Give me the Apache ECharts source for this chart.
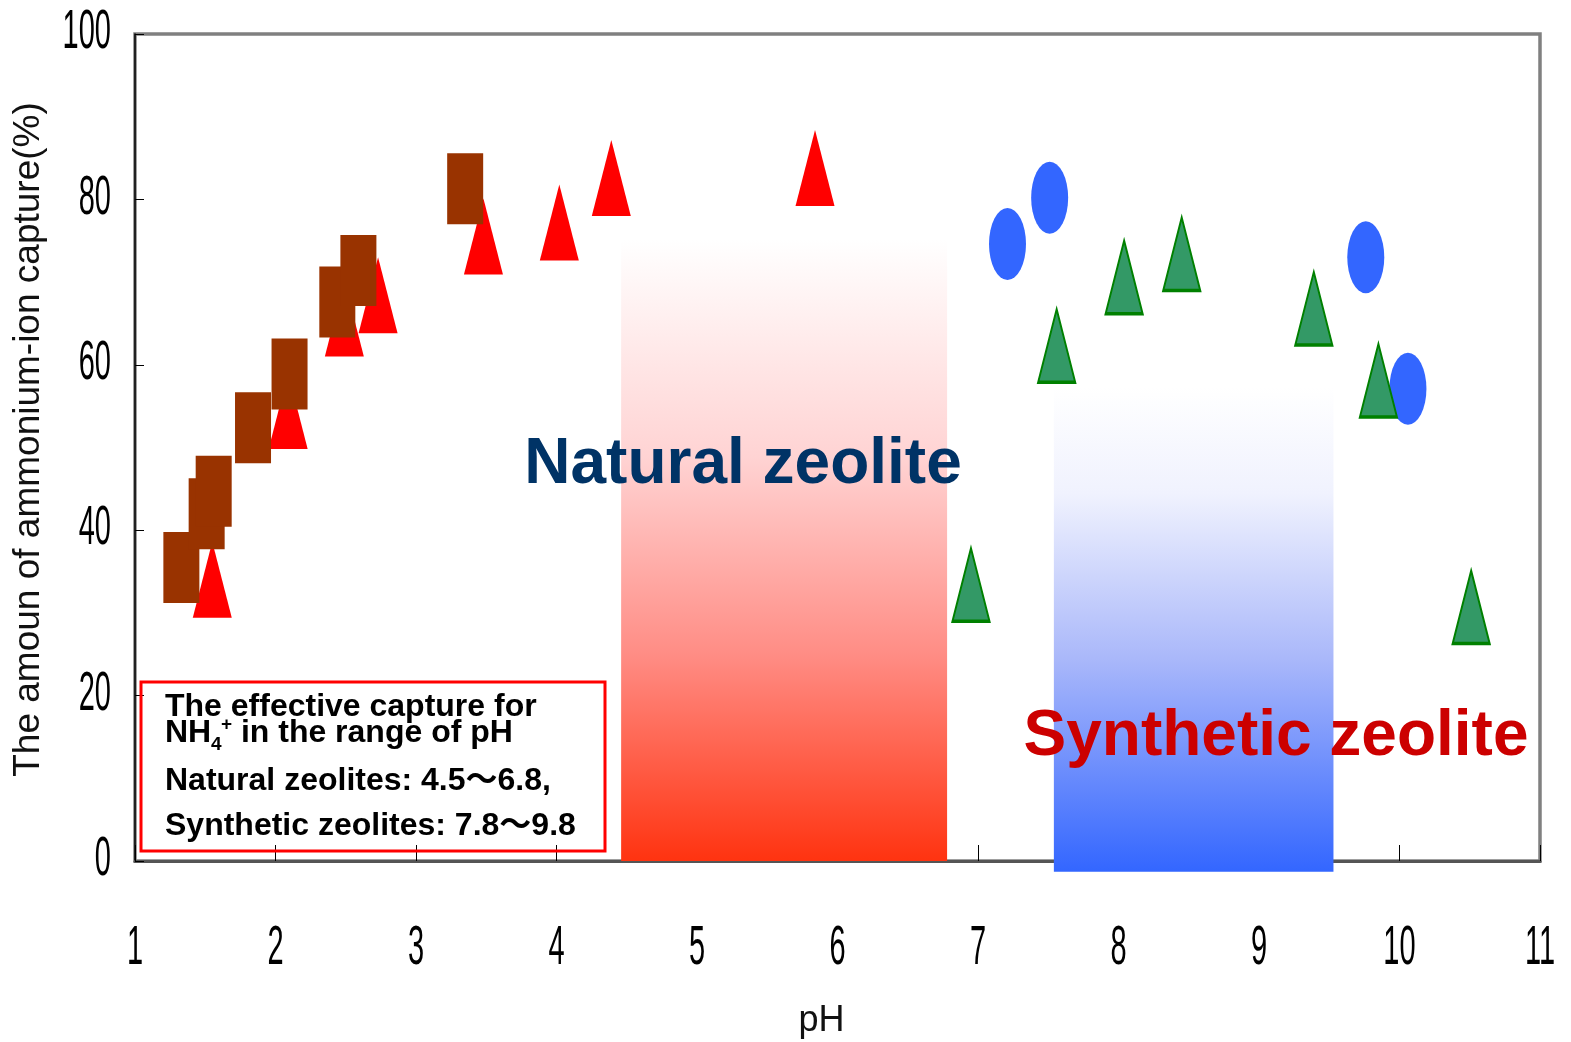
<!DOCTYPE html>
<html>
<head>
<meta charset="utf-8">
<script src="https://cdn.jsdelivr.net/npm/echarts@6/dist/echarts.min.js"></script>
<style>
  html, body { margin: 0; padding: 0; background: #fff; }
  #main { width: 1571px; height: 1042px; }
</style>
</head>
<body>
<div id="main"></div>
<script>
// [pH, ammonium-ion capture %]
var redTriangles = [[1.55, 34.0], [2.09, 54.4], [2.49, 65.6], [2.73, 68.4], [3.48, 75.5], [4.02, 77.2], [4.39, 82.6], [5.84, 83.8]];
var brownSquares = [[1.33, 35.5], [1.51, 42.0], [1.56, 44.7], [1.84, 52.4], [2.10, 58.9], [2.44, 67.6], [2.59, 71.4], [3.35, 81.3]];
var blueOvals = [[7.21, 74.6], [7.51, 80.2], [9.76, 73.0], [10.06, 57.1]];
var greenTriangles = [[6.95, 33.4], [7.56, 62.3], [8.04, 70.6], [8.45, 73.4], [9.39, 66.8], [9.85, 58.1], [10.51, 30.7]];

// shaded pH ranges: [pH from, pH to, capture from, capture to]
var naturalBand = [[4.46, 6.78, 0, 75.1]];
var syntheticBand = [[7.54, 9.53, -1.3, 57.3]];

var xTicks = [1, 2, 3, 4, 5, 6, 7, 8, 9, 10, 11];
var yTicks = [0, 20, 40, 60, 80, 100];

var mainFont = "'Liberation Sans', Arial, 'Noto Sans CJK JP', sans-serif";

function band(stops) {
    return function (params, api) {
        var p0 = api.coord([api.value(0), api.value(3)]);
        var p1 = api.coord([api.value(1), api.value(2)]);
        return {
            type: 'rect',
            shape: { x: p0[0], y: p0[1], width: p1[0] - p0[0], height: p1[1] - p0[1] },
            style: { fill: new echarts.graphic.LinearGradient(0, 0, 0, 1, stops) }
        };
    };
}

// tick labels in the tall, narrow look of the original
function tickLabel(axis) {
    return function (params, api) {
        var v = axis === 'x' ? api.value(0) : api.value(1);
        var p = api.coord([api.value(0), api.value(1)]);
        return {
            type: 'text',
            x: axis === 'x' ? p[0] : p[0] - 24,
            y: axis === 'x' ? p[1] + 88 : p[1] - 1,
            scaleY: 1.9,
            style: {
                text: String(v), font: "29px 'Liberation Sans', Arial, sans-serif", fill: '#000',
                align: axis === 'x' ? 'center' : 'right', verticalAlign: 'middle'
            }
        };
    };
}

var chart = echarts.init(document.getElementById('main'));
chart.setOption({
    animation: false,
    backgroundColor: '#fff',
    grid: {
        left: 135, right: 31, top: 34, bottom: 181,
        outerBoundsMode: 'none', containLabel: false,
        show: true, borderColor: '#808080', borderWidth: 3.5
    },
    xAxis: {
        type: 'value',
        min: xTicks[0], max: xTicks[xTicks.length - 1], interval: 1,
        name: 'pH', nameLocation: 'middle', nameGap: 142,
        nameTextStyle: { fontFamily: mainFont, fontSize: 36, color: '#111', padding: [0, 32, 0, 0] },
        axisLine: { lineStyle: { color: '#555', width: 3 } },
        axisTick: { inside: true, length: 16, lineStyle: { color: '#000', width: 1 } },
        axisLabel: { show: false },
        splitLine: { show: false }
    },
    yAxis: {
        type: 'value',
        min: yTicks[0], max: yTicks[yTicks.length - 1], interval: 20,
        name: 'The amoun of ammonium-ion capture(%)', nameLocation: 'middle', nameGap: 88, nameRotate: 90,
        nameTextStyle: { fontFamily: mainFont, fontSize: 37, color: '#111', padding: [0, 0, 0, 16] },
        axisLine: { lineStyle: { color: '#000', width: 1.5 } },
        axisTick: { inside: true, length: 9, lineStyle: { color: '#000', width: 1 } },
        axisLabel: { show: false },
        splitLine: { show: false }
    },
    series: [
        {
            type: 'scatter', data: redTriangles, symbol: 'triangle', symbolSize: [39, 76],
            itemStyle: { color: '#ff0000', opacity: 1 }
        },
        {
            type: 'scatter', data: brownSquares, symbol: 'rect', symbolSize: [36, 71],
            itemStyle: { color: '#993300', opacity: 1 }
        },
        {
            type: 'scatter', data: blueOvals, symbol: 'circle', symbolSize: [37, 72],
            itemStyle: { color: '#3366ff', opacity: 1 }
        },
        {
            type: 'scatter', data: greenTriangles, symbol: 'triangle', symbolSize: [37, 73],
            itemStyle: { color: '#339966', borderColor: '#008000', borderWidth: 2.5, opacity: 1 }
        },
        {
            type: 'custom', data: naturalBand, z: 3, clip: false, silent: true,
            encode: { x: [0, 1], y: [2, 3] },
            renderItem: band([
                { offset: 0, color: '#ffffff' },
                { offset: 0.35, color: '#ffd3d3' },
                { offset: 0.67, color: '#ff8c84' },
                { offset: 1, color: '#ff3310' }
            ])
        },
        {
            type: 'custom', data: syntheticBand, z: 3, clip: false, silent: true,
            encode: { x: [0, 1], y: [2, 3] },
            renderItem: band([
                { offset: 0, color: '#ffffff' },
                { offset: 0.22, color: '#f0f2fe' },
                { offset: 0.56, color: '#aab8fa' },
                { offset: 1, color: '#3366ff' }
            ])
        },
        {
            type: 'custom', data: xTicks.map(function (v) { return [v, 0]; }), z: 5, clip: false, silent: true,
            encode: { x: 0, y: 1 },
            renderItem: tickLabel('x')
        },
        {
            type: 'custom', data: yTicks.map(function (v) { return [1, v]; }), z: 5, clip: false, silent: true,
            encode: { x: 0, y: 1 },
            renderItem: tickLabel('y')
        }
    ],
    graphic: [
        {
            type: 'text', x: 743, y: 465, z: 100,
            style: { text: 'Natural zeolite', font: 'bold 64px ' + mainFont, fill: '#003366', align: 'center', verticalAlign: 'middle' }
        },
        {
            type: 'text', x: 1276, y: 737, z: 100,
            style: { text: 'Synthetic zeolite', font: 'bold 64px ' + mainFont, fill: '#cc0000', align: 'center', verticalAlign: 'middle' }
        },
        {
            type: 'rect', z: 100,
            shape: { x: 141, y: 682, width: 464, height: 169 },
            style: { fill: 'none', stroke: '#ff0000', lineWidth: 3 }
        },
        {
            type: 'text', x: 165, y: 707, z: 100,
            style: { text: 'The effective capture for', font: 'bold 32px ' + mainFont, fill: '#000', verticalAlign: 'middle' }
        },
        {
            type: 'text', x: 165, y: 733, z: 100,
            style: { text: 'NH', font: 'bold 32px ' + mainFont, fill: '#000', verticalAlign: 'middle' }
        },
        {
            type: 'text', x: 211, y: 745, z: 100,
            style: { text: '4', font: 'bold 19px ' + mainFont, fill: '#000', verticalAlign: 'middle' }
        },
        {
            type: 'text', x: 221, y: 725, z: 100,
            style: { text: '+', font: 'bold 19px ' + mainFont, fill: '#000', verticalAlign: 'middle' }
        },
        {
            type: 'text', x: 232, y: 733, z: 100,
            style: { text: ' in the range of pH', font: 'bold 32px ' + mainFont, fill: '#000', verticalAlign: 'middle' }
        },
        {
            type: 'text', x: 165, y: 781, z: 100,
            style: { text: 'Natural zeolites: 4.5～6.8,', font: 'bold 32px ' + mainFont, fill: '#000', verticalAlign: 'middle' }
        },
        {
            type: 'text', x: 165, y: 826, z: 100,
            style: { text: 'Synthetic zeolites: 7.8～9.8', font: 'bold 32px ' + mainFont, fill: '#000', verticalAlign: 'middle' }
        }
    ]
});
</script>
</body>
</html>
